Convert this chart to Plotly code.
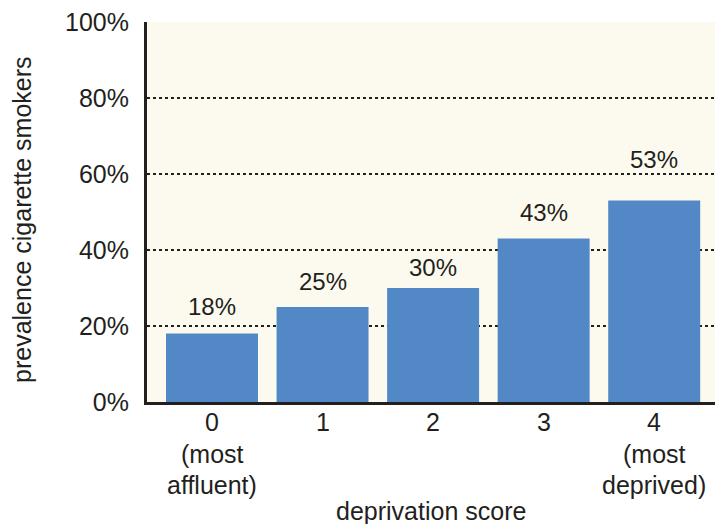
import plotly.graph_objects as go

categories = [0, 1, 2, 3, 4]
tick_labels = ["0", "1", "2", "3", "4"]
values = [18, 25, 30, 43, 53]
value_labels = ["18%", "25%", "30%", "43%", "53%"]
sub_labels = {0: ["(most", "affluent)"], 4: ["(most", "deprived)"]}
y_ticks = [0, 20, 40, 60, 80, 100]
y_tick_labels = ["0%", "20%", "40%", "60%", "80%", "100%"]

# style: pixel gap of each value label above its bar
label_shifts = [12, 10, 5, 11, 26]

FONT = "Liberation Sans, Arial, sans-serif"
TXT = "#231f20"
FS = 25

fig = go.Figure()
fig.add_trace(go.Bar(
    x=categories, y=values, width=0.832,
    marker=dict(color="#5288c6", line=dict(width=0)),
    hoverinfo="skip",
))

annotations = []
for c, v, lab, sh in zip(categories, values, value_labels, label_shifts):
    annotations.append(dict(x=c, y=v, xref="x", yref="y", text=lab, showarrow=False,
                            yanchor="bottom", yshift=sh,
                            font=dict(family=FONT, size=24, color=TXT)))
for c, lab in zip(categories, tick_labels):
    annotations.append(dict(x=c, y=0, xref="x", yref="paper", text=lab, showarrow=False,
                            yanchor="middle", yshift=-20,
                            font=dict(family=FONT, size=FS, color=TXT)))
for c, lines in sub_labels.items():
    for i, line in enumerate(lines):
        annotations.append(dict(x=c, y=0, xref="x", yref="paper", text=line, showarrow=False,
                                yanchor="middle", yshift=-52 - 31 * i,
                                font=dict(family=FONT, size=FS, color=TXT)))
annotations.append(dict(x=0.5, y=0, xref="paper", yref="paper", text="deprivation score",
                        showarrow=False, yanchor="middle", yshift=-109,
                        font=dict(family=FONT, size=FS, color=TXT)))
annotations.append(dict(x=0, y=0.479, xref="paper", yref="paper", text="prevalence cigarette smokers",
                        showarrow=False, xanchor="center", yanchor="middle", xshift=-125,
                        textangle=-90, font=dict(family=FONT, size=FS, color=TXT)))

fig.update_layout(
    width=715, height=524,
    margin=dict(l=147, r=0, t=22, b=122, autoexpand=False),
    paper_bgcolor="white",
    plot_bgcolor="#fcfaee",
    showlegend=False,
    font=dict(family=FONT, size=FS, color=TXT),
    annotations=annotations,
)
fig.update_xaxes(
    range=[-0.588, 4.55],
    tickmode="array", tickvals=categories,
    showticklabels=False,
    showline=True, linecolor=TXT, linewidth=3,
    showgrid=False, ticks="", zeroline=False,
    automargin=False, fixedrange=True,
)
fig.update_yaxes(
    range=[0, 100],
    tickmode="array", tickvals=y_ticks, ticktext=y_tick_labels,
    showline=True, linecolor=TXT, linewidth=3,
    showgrid=True, gridcolor=TXT, gridwidth=2, griddash="dot",
    zeroline=False, ticks="",
    ticklabelstandoff=10,
    tickfont=dict(family=FONT, size=FS, color=TXT),
    automargin=False, fixedrange=True,
)

fig.write_html("out.html", config={"displayModeBar": False},
               post_script="document.body.style.margin='0px';")
